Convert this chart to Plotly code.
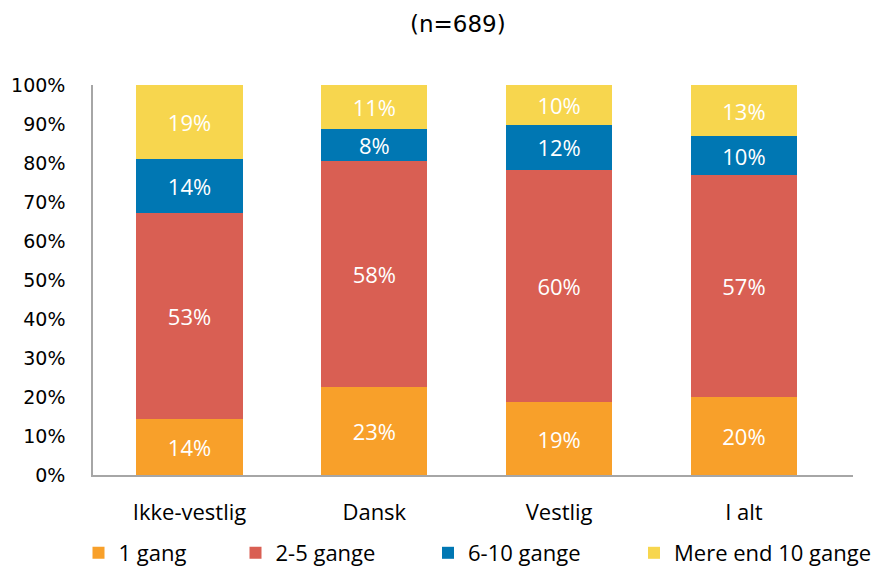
import plotly.graph_objects as go

categories = ["Ikke-vestlig", "Dansk", "Vestlig", "I alt"]
series_names = ["1 gang", "2-5 gange", "6-10 gange", "Mere end 10 gange"]
gang_1 = [14.4, 22.6, 18.6, 19.9]
gange_2_5 = [52.8, 58.0, 59.7, 57.0]
gange_6_10 = [13.8, 8.1, 11.5, 10.0]
mere_end_10 = [19.0, 11.3, 10.2, 13.1]
y_ticks = [0, 10, 20, 30, 40, 50, 60, 70, 80, 90, 100]
y_tick_labels = [f"{v}%" for v in y_ticks]

colors = ["#F8A02A", "#D95F53", "#0077B3", "#F7D64E"]
series = [gang_1, gange_2_5, gange_6_10, mere_end_10]

W, H = 880.0, 569.0
# legend square centres (pixels) for each series entry
legend_centres = [98.5, 255.5, 448, 654]
legend_ids = ["legend", "legend2", "legend3", "legend4"]

fig = go.Figure()
for name, vals, col, lid in zip(series_names, series, colors, legend_ids):
    fig.add_trace(go.Bar(
        x=categories, y=vals, name=name, legend=lid,
        marker=dict(color=col, line=dict(width=0)),
        texttemplate="%{y:.0f}%", textposition="inside",
        insidetextanchor="middle", textangle=0,
        constraintext="none",
        textfont=dict(color="white", size=22, family="Open Sans"),
    ))

legend_style = dict(orientation="h", xref="container", xanchor="left",
                    yref="container", y=1 - 553 / H, yanchor="middle",
                    font=dict(family="Open Sans", size=22, color="black"),
                    itemwidth=30, bgcolor="rgba(0,0,0,0)", borderwidth=0)
layout_legends = {}
for lid, cx in zip(legend_ids, legend_centres):
    layout_legends[lid] = dict(legend_style, x=(cx - 20) / W)

fig.update_layout(
    barmode="stack",
    bargap=0.426,
    width=880, height=569,
    paper_bgcolor="white", plot_bgcolor="white",
    margin=dict(l=93, r=27, t=85, b=94, autoexpand=False),
    title=dict(text="(n=689)", x=0.48, xref="paper", xanchor="center",
               y=1 - 24 / H, yref="container", yanchor="middle",
               font=dict(family="DejaVu Sans", size=23, color="black")),
    showlegend=True,
    **layout_legends,
)
fig.update_yaxes(range=[0, 100], tickvals=y_ticks, ticktext=y_tick_labels,
                 showgrid=False, showline=True, linecolor="#A6A6A6", linewidth=1.5,
                 ticks="", ticklabelstandoff=22,
                 tickfont=dict(family="DejaVu Sans", size=19, color="black"))
fig.update_xaxes(range=[-0.522, 3.59], showline=True, linecolor="#A6A6A6",
                 linewidth=1.5, ticks="",
                 tickfont=dict(family="Open Sans", size=22, color="black"),
                 ticklabelstandoff=17)

fig.write_html("out.html", config={"displayModeBar": False},
               post_script="document.body.style.margin='0px';")
